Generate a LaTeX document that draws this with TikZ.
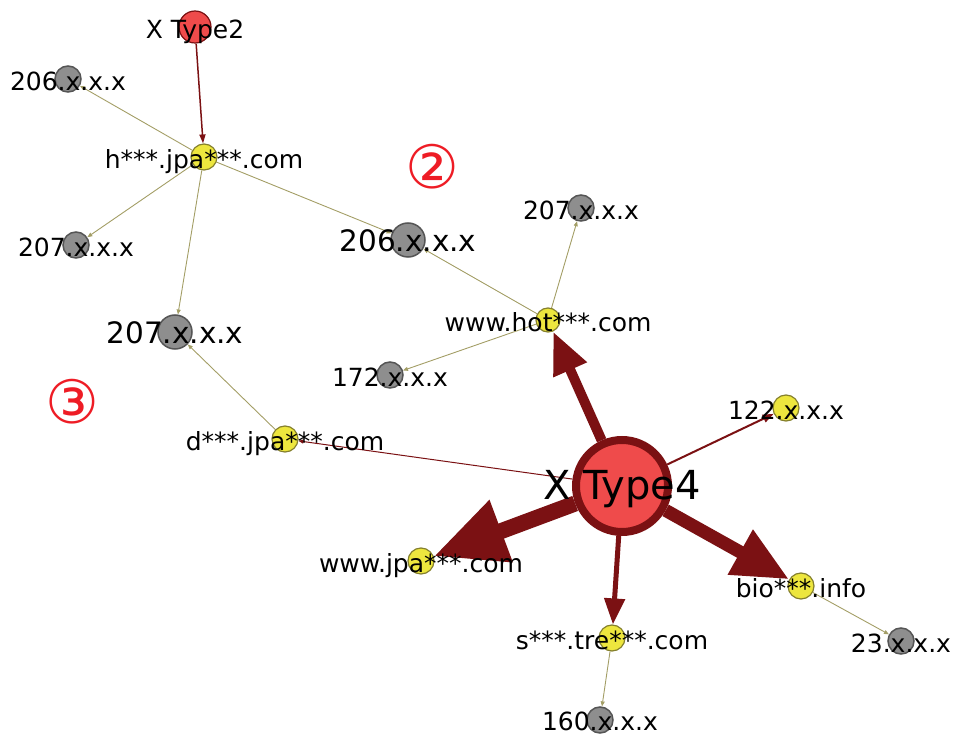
\documentclass[tikz,border=0pt]{standalone}
\usepackage{fontspec}
\setmainfont{DejaVu Sans}
\usetikzlibrary{arrows.meta}
\pgfdeclarelayer{bg}
\pgfsetlayers{bg,main}
\definecolor{edgered}{HTML}{7B1113}
\definecolor{nodered}{HTML}{EF4B4B}
\definecolor{nodeyel}{HTML}{EDE63E}
\definecolor{yelborder}{HTML}{85802E}
\definecolor{nodegray}{HTML}{8E8E8E}
\definecolor{grayborder}{HTML}{555555}
\definecolor{oliveedge}{HTML}{A39E66}
\definecolor{numred}{HTML}{EE1C25}
\tikzset{
  rednode/.style={circle, draw=edgered, fill=nodered, inner sep=0pt},
  yelnode/.style={circle, draw=yelborder, fill=nodeyel, line width=1.2pt, minimum size=26pt, inner sep=0pt},
  graynode/.style={circle, draw=grayborder, fill=nodegray, line width=1.5pt, minimum size=26pt, inner sep=0pt},
  lbl/.style={anchor=base, inner sep=0pt, yshift=-11.5pt, font=\fontsize{25}{30}\selectfont},
  lblbig/.style={anchor=base, inner sep=0pt, yshift=-12pt, font=\fontsize{29.5}{34}\selectfont},
  lblhuge/.style={anchor=base, inner sep=0pt, yshift=-14pt, font=\fontsize{40}{46}\selectfont},
  oedge/.style={draw=oliveedge, line width=0.9pt, -{Triangle[length=5pt,width=4pt]}},
  redge/.style={draw=edgered},
  circnum/.style={text=numred, inner sep=0pt, font=\fontsize{60}{64}\selectfont}
}
\begin{document}
\begin{tikzpicture}[x=1pt,y=-1pt]
\useasboundingbox (0,0) rectangle (954,735);
% nodes
\node[rednode, minimum size=32pt, line width=1.2pt] (t2) at (195,27) {};
\node[graynode] (g206a) at (68,79) {};
\node[yelnode] (h) at (204,157) {};
\node[graynode] (g207a) at (76,245) {};
\node[graynode, minimum size=34pt] (g206b) at (408,240) {};
\node[graynode] (g207b) at (581,208) {};
\node[yelnode, minimum size=24pt] (hot) at (548,320) {};
\node[graynode] (g172) at (390,375) {};
\node[graynode, minimum size=34pt] (g207c) at (175,332) {};
\node[yelnode] (d) at (285,439) {};
\node[rednode, minimum size=92pt, line width=8pt] (t4) at (622,486) {};
\node[yelnode] (n122) at (786,408) {};
\node[yelnode] (wjpa) at (421,561) {};
\node[yelnode] (bio) at (801,586) {};
\node[yelnode] (tre) at (612,638) {};
\node[graynode] (g23) at (901,641) {};
\node[graynode] (g160) at (600,720) {};
% edges
\begin{pgfonlayer}{bg}
\draw[redge, line width=1.5pt, -{Triangle[length=9pt,width=6pt]}] (t2) -- (h);
\draw[oedge] (h) -- (g206a);
\draw[oedge] (h) -- (g207a);
\draw[oedge] (h) -- (g207c);
\draw[oedge] (h) -- (g206b);
\draw[oedge] (hot) -- (g206b);
\draw[oedge] (hot) -- (g207b);
\draw[oedge] (hot) -- (g172);
\draw[oedge] (d) -- (g207c);
\draw[oedge] (bio) -- (g23);
\draw[oedge] (tre) -- (g160);
\draw[redge, line width=1pt, -{Triangle[length=5pt,width=4pt]}] (t4) -- (d);
\draw[redge, line width=2pt, -{Triangle[length=11pt,width=8pt]}] (t4) -- (n122);
\draw[redge, line width=5pt, -{Triangle[length=26pt,width=20pt]}] (t4) -- (tre);
\draw[redge, line width=10pt, -{Triangle[length=42pt,width=34pt]}] (t4) -- (hot);
\draw[redge, line width=13pt, -{Triangle[length=56pt,width=48pt]}] (t4) -- (bio);
\draw[redge, line width=16pt, -{Triangle[length=72pt,width=62pt]}] (t4) -- (wjpa);
\end{pgfonlayer}
% labels
\node[lbl] (lt2) at (t2) {X Type2};
\node[lbl] (l206a) at (g206a) {206.x.x.x};
\node[lbl] (lh) at (h) {h***.jpa***.com};
\node[lbl] (l207a) at (g207a) {207.x.x.x};
\node[lblbig] (l206b) at (g206b) {206.x.x.x};
\node[lbl] (l207b) at (g207b) {207.x.x.x};
\node[lbl] (lhot) at (hot) {www.hot***.com};
\node[lbl] (l172) at (g172) {172.x.x.x};
\node[lblbig] (l207c) at (g207c) {207.x.x.x};
\node[lbl] (ld) at (d) {d***.jpa***.com};
\node[lblhuge] (lt4) at (t4) {X Type4};
\node[lbl] (l122) at (n122) {122.x.x.x};
\node[lbl] (lwjpa) at (wjpa) {www.jpa***.com};
\node[lbl] (lbio) at (bio) {bio***.info};
\node[lbl] (ltre) at (tre) {s***.tre***.com};
\node[lbl] (l23) at (g23) {23.x.x.x};
\node[lbl, yshift=1pt] (l160) at (g160) {160.x.x.x};
\node[circnum] (c2) at (432,167) {②};
\node[circnum] (c3) at (72,402) {③};
\end{tikzpicture}
\end{document}
